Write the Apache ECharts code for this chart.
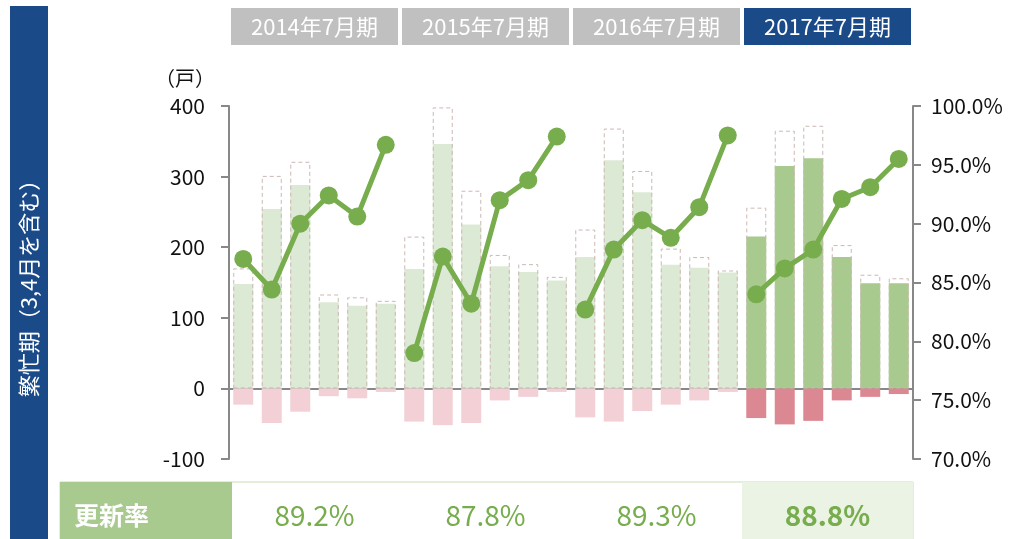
<!DOCTYPE html>
<html>
<head>
<meta charset="utf-8">
<script src="https://cdn.jsdelivr.net/npm/echarts@6/dist/echarts.min.js"></script>
<style>
  html, body { margin: 0; padding: 0; background: #fff; }
  #main { width: 1013px; height: 539px; }
</style>
</head>
<body>
<div id="main"></div>
<script>
// 期ごとの見出しと更新率
const periods = ['2014年7月期', '2015年7月期', '2016年7月期', '2017年7月期']
const periodRates = ['89.2%', '87.8%', '89.3%', '88.8%']
const monthsPerPeriod = 6

// 各月の戸数（点線枠 = 対象戸数、緑 = 更新、赤 = 解約）
const totals = [170, 301, 321, 133, 129, 124, 215, 398, 280, 189, 176, 158, 225, 368, 308, 198, 186, 167, 256, 365, 372, 203, 161, 156]
const renewed = [148, 254, 288, 122, 117, 120, 169, 346, 232, 173, 165, 153, 186, 323, 278, 175, 171, 164, 215, 315, 326, 186, 149, 149]
const cancelled = [-23, -49, -33, -11, -14, -5, -47, -52, -49, -17, -12, -5, -41, -47, -32, -23, -17, -5, -42, -51, -46, -17, -12, -8]
// 更新率（%）
const rates = [87.0, 84.4, 90.0, 92.4, 90.6, 96.7, 79.0, 87.2, 83.2, 92.0, 93.7, 97.4, 82.7, 87.8, 90.3, 88.8, 91.4, 97.5, 84.0, 86.2, 87.8, 92.1, 93.1, 95.5]

const leftTicks = { min: -100, max: 400, interval: 100 }
const rightTicks = { min: 70, max: 100, interval: 5 }

const categories = totals.map((v, i) => periods[Math.floor(i / monthsPerPeriod)] + '-' + (i % monthsPerPeriod + 1))

const FONT = '"Noto Sans CJK JP", "Noto Sans", sans-serif'
const NAVY = '#1b4a89'
const LINE_GREEN = '#78ad4e'
const gridPos = { left: 229, right: 100, top: 106, bottom: 80 }
const plotW = 1013 - gridPos.left - gridPos.right
const groupW = plotW / periods.length

const isLast = i => Math.floor(i / monthsPerPeriod) === periods.length - 1

const chart = echarts.init(document.getElementById('main'))

const lineSeries = periods.map((p, g) => ({
  name: p,
  type: 'line',
  yAxisIndex: 1,
  z: 5,
  symbol: 'circle',
  symbolSize: 18,
  lineStyle: { color: LINE_GREEN, width: 5 },
  itemStyle: { color: LINE_GREEN },
  data: rates.map((v, i) => Math.floor(i / monthsPerPeriod) === g ? v : '-')
}))

const headerGraphics = []
periods.forEach((p, g) => {
  const x0 = gridPos.left + g * groupW
  headerGraphics.push({
    type: 'rect',
    shape: { x: x0 + 2, y: 8, width: groupW - 4, height: 37 },
    style: { fill: g === periods.length - 1 ? NAVY : '#c0c0c0' }
  })
  headerGraphics.push({
    type: 'text',
    x: x0 + groupW / 2,
    y: 27,
    style: { text: p, fill: '#fff', font: '22px ' + FONT, align: 'center', verticalAlign: 'middle' }
  })
  // 更新率の表
  if (g === periods.length - 1) {
    headerGraphics.push({
      type: 'rect',
      shape: { x: x0, y: 482, width: groupW, height: 57 },
      style: { fill: '#ebf3e5' }
    })
  }
  headerGraphics.push({
    type: 'text',
    x: x0 + groupW / 2,
    y: 515,
    style: {
      text: periodRates[g],
      fill: LINE_GREEN,
      font: (g === periods.length - 1 ? 'bold ' : '') + '28px ' + FONT,
      align: 'center',
      verticalAlign: 'middle'
    }
  })
})

const option = {
  animation: false,
  grid: gridPos,
  xAxis: {
    type: 'category',
    data: categories,
    boundaryGap: true,
    axisLine: { onZero: true, lineStyle: { color: '#888', width: 2 } },
    axisTick: { show: false },
    axisLabel: { show: false }
  },
  yAxis: [
    {
      type: 'value',
      min: leftTicks.min,
      max: leftTicks.max,
      interval: leftTicks.interval,
      name: '（戸）',
      nameLocation: 'end',
      nameGap: 18,
      nameTextStyle: { color: '#111', fontSize: 20, fontFamily: FONT, align: 'right', padding: [0, 14, 0, 0] },
      axisLine: { show: true, lineStyle: { color: '#888', width: 2 } },
      axisTick: { show: true, length: 8, lineStyle: { color: '#888', width: 2 } },
      axisLabel: { color: '#111', fontSize: 21, fontFamily: FONT, margin: 24 },
      splitLine: { show: false }
    },
    {
      type: 'value',
      min: rightTicks.min,
      max: rightTicks.max,
      interval: rightTicks.interval,
      position: 'right',
      axisLine: { show: true, lineStyle: { color: '#888', width: 2 } },
      axisTick: { show: true, length: 8, lineStyle: { color: '#888', width: 2 } },
      axisLabel: { color: '#111', fontSize: 21, fontFamily: FONT, margin: 18, formatter: v => v.toFixed(1) + '%' },
      splitLine: { show: false }
    }
  ],
  series: [
    {
      name: '更新',
      type: 'bar',
      barWidth: 20,
      barGap: '-100%',
      data: renewed.map((v, i) => ({ value: v, itemStyle: { color: isLast(i) ? '#a8ca8e' : '#dce9d4' } }))
    },
    {
      name: '解約',
      type: 'bar',
      barWidth: 20,
      barGap: '-100%',
      data: cancelled.map((v, i) => ({ value: v, itemStyle: { color: isLast(i) ? '#dc8893' : '#f2d0d5' } }))
    },
    {
      name: '対象',
      type: 'bar',
      barWidth: 20,
      barGap: '-100%',
      itemStyle: { color: 'rgba(0,0,0,0)', borderColor: '#cbb8b4', borderWidth: 1, borderType: [4, 3] },
      data: totals
    },
    ...lineSeries
  ],
  graphic: [
    {
      type: 'rect',
      shape: { x: 10, y: 6, width: 38, height: 533 },
      style: { fill: NAVY }
    },
    {
      type: 'text',
      x: 29,
      y: 283,
      rotation: Math.PI / 2,
      style: { text: '繁忙期（3,4月を含む）', fill: '#fff', font: '22px ' + FONT, align: 'center', verticalAlign: 'middle' }
    },
    {
      type: 'rect',
      shape: { x: 60, y: 482, width: gridPos.left + plotW - 60, height: 60 },
      style: { fill: 'none', stroke: '#c6dcb6', lineWidth: 1 }
    },
    {
      type: 'rect',
      shape: { x: 60, y: 482, width: gridPos.left + 3 - 60, height: 57 },
      style: { fill: '#a8ca8e' }
    },
    {
      type: 'text',
      x: 74,
      y: 515,
      style: { text: '更新率', fill: '#fff', font: 'bold 25px ' + FONT, align: 'left', verticalAlign: 'middle' }
    },
    ...headerGraphics
  ]
}

chart.setOption(option)
</script>
</body>
</html>
